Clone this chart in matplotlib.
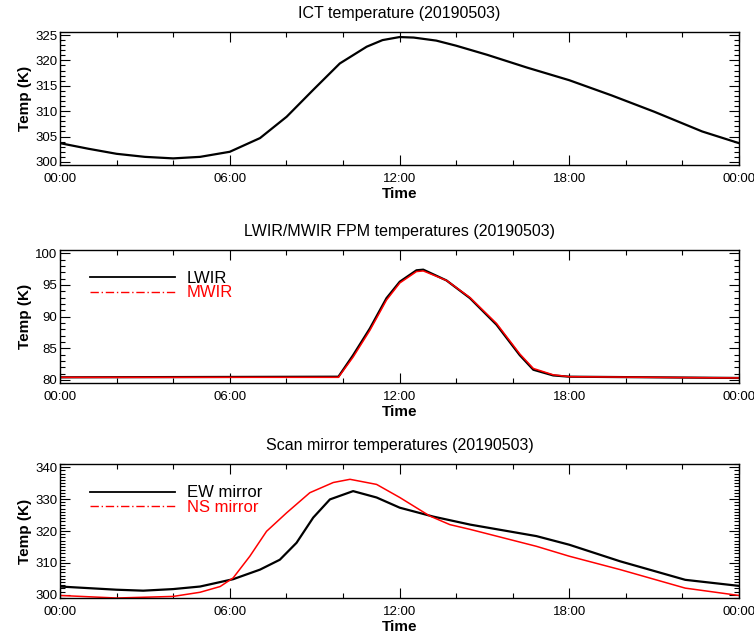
import numpy as np
import matplotlib
matplotlib.use("Agg")
import matplotlib.pyplot as plt
from matplotlib.lines import Line2D
from matplotlib.ticker import MultipleLocator

plt.rcParams["font.family"] = ["Liberation Sans", "DejaVu Sans"]

DATE = "20190503"
TIME_TICKS = [0, 6, 12, 18, 24]
TIME_LABELS = ["00:00", "06:00", "12:00", "18:00", "00:00"]

# ICT temperature (hours, K)
ict_t = [0, 1, 2, 3, 4, 4.95, 6.0, 7.07, 8.01, 8.95, 9.89, 10.84, 11.4,
         12.0, 12.5, 13.3, 14.0, 15.1, 16.5, 18.0, 19.5, 21.0, 22.7, 24.0]
ict_k = [303.7, 302.6, 301.6, 301.0, 300.7, 301.0, 302.0, 304.7, 308.9, 314.2,
         319.4, 322.7, 324.0, 324.6, 324.5, 323.9, 322.9, 321.1, 318.6, 316.1,
         313.1, 309.9, 306.0, 303.7]

# FPM temperatures
fpm_t = [0, 9.84, 10.36, 10.95, 11.54, 12.01, 12.6, 12.84, 13.66, 14.49,
         15.43, 16.25, 16.73, 17.43, 18.0, 24.0]
lwir_k = [80.4, 80.5, 83.9, 88.1, 92.9, 95.5, 97.3, 97.4, 95.7, 92.9,
          88.7, 83.9, 81.6, 80.7, 80.5, 80.3]
mwir_k = [80.4, 80.4, 83.6, 87.8, 92.6, 95.3, 97.1, 97.2, 95.7, 93.0,
          88.9, 84.1, 81.8, 80.8, 80.5, 80.3]

# scan mirror temperatures
ew_t = [0, 2, 2.94, 4, 4.95, 6.12, 7.07, 7.77, 8.36, 8.95, 9.54, 10.36, 11.19,
        12.01, 13.2, 14.5, 16.84, 18.0, 19.8, 22.1, 24.0]
ew_k = [302.6, 301.6, 301.3, 301.8, 302.6, 304.9, 307.9, 311.0, 316.3, 324.2,
        329.9, 332.5, 330.5, 327.3, 324.5, 322.0, 318.4, 315.7, 310.5, 304.7,
        302.8]
ns_t = [0, 2, 4, 4.95, 5.66, 6.12, 6.71, 7.3, 8.01, 8.83, 9.66, 10.25, 11.19,
        12.01, 13.07, 13.78, 14.5, 16.84, 18.0, 19.8, 22.1, 24.0]
ns_k = [299.8, 299.0, 299.5, 300.8, 302.6, 305.3, 312.1, 319.9, 325.7, 332.0,
        335.2, 336.2, 334.6, 330.5, 324.7, 322.0, 320.5, 315.2, 312.1, 307.9,
        302.1, 299.8]


def style_axis(ax, title, ylim, ymajor, yminor):
    ax.set_xlim(0, 24)
    ax.set_ylim(*ylim)
    ax.set_xticks(TIME_TICKS)
    ax.set_xticklabels(TIME_LABELS)
    ax.xaxis.set_minor_locator(MultipleLocator(2))
    ax.yaxis.set_major_locator(MultipleLocator(ymajor))
    ax.yaxis.set_minor_locator(MultipleLocator(yminor))
    ax.tick_params(which="both", direction="in", top=True, right=True, labelsize=9.5, width=0.8)
    ax.tick_params(which="major", length=7)
    ax.tick_params(which="minor", length=3.5)
    ax.tick_params(axis="x", pad=6)
    ax.tick_params(axis="y", pad=2)
    ax.set_title(title, fontsize=11.5, pad=10)
    ax.set_xlabel("Time", fontsize=11, fontweight="bold", labelpad=1)
    ax.set_ylabel("Temp (K)", fontsize=11, fontweight="bold", labelpad=2)
    for s in ax.spines.values():
        s.set_linewidth(1.0)


def add_legend(ax, labels, anchor):
    handles = [Line2D([], [], color="black", lw=1.3, ls="-"),
               Line2D([], [], color="red", lw=1.0, ls=(0, (6, 2, 1, 2)))]
    ax.legend(handles, labels, loc="upper left", bbox_to_anchor=anchor, frameon=False,
              fontsize=12, handlelength=5.1, handletextpad=0.7, labelspacing=-0.05,
              labelcolor=["black", "red"], borderaxespad=0)


fig = plt.figure(figsize=(7.54, 6.37), dpi=100)
ax1 = fig.add_axes([0.0796, 0.741, 0.9005, 0.2088])
ax2 = fig.add_axes([0.0796, 0.3987, 0.9005, 0.2088])
ax3 = fig.add_axes([0.0796, 0.0612, 0.9005, 0.2104])

ax1.plot(ict_t, ict_k, color="black", lw=1.6)
style_axis(ax1, f"ICT temperature ({DATE})", (299.4, 325.6), 5, 1)

ax2.plot(fpm_t, lwir_k, color="black", lw=1.6)
ax2.plot(fpm_t, mwir_k, color="red", lw=1.1)
style_axis(ax2, f"LWIR/MWIR FPM temperatures ({DATE})", (79.5, 100.5), 5, 1)
add_legend(ax2, ["LWIR", "MWIR"], (0.035, 0.89))

ax3.plot(ew_t, ew_k, color="black", lw=1.6)
ax3.plot(ns_t, ns_k, color="red", lw=1.1)
style_axis(ax3, f"Scan mirror temperatures ({DATE})", (299.0, 341.0), 10, 1)
add_legend(ax3, ["EW mirror", "NS mirror"], (0.035, 0.89))

fig.savefig("out.png", dpi=100)
